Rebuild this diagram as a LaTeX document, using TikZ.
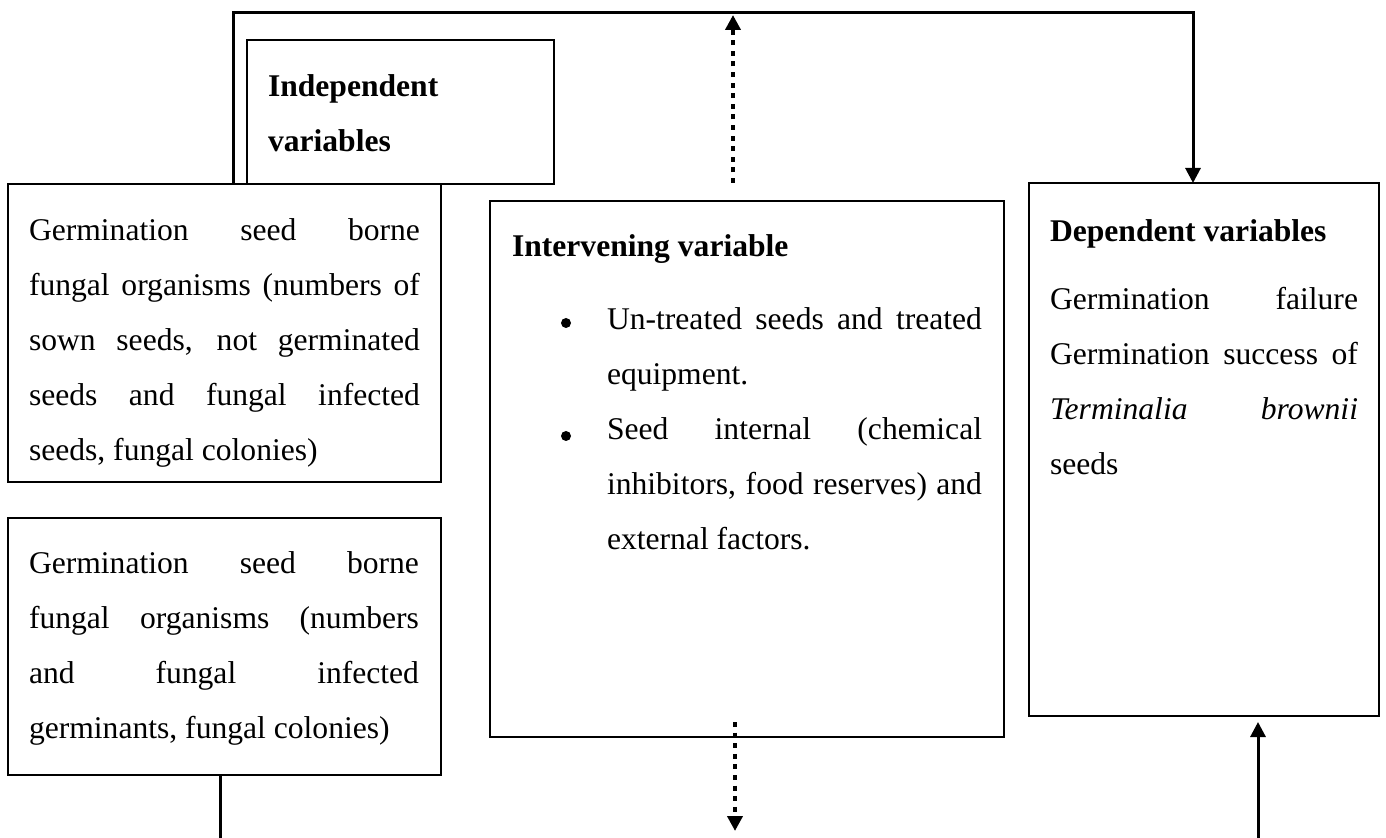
\documentclass[tikz,border=0pt]{standalone}
\usepackage{fontspec}
\setmainfont{Liberation Serif}
\usetikzlibrary{arrows.meta}
\newcommand\dgfont{\fontsize{15.8pt}{27.5pt}\selectfont}
\newcommand\jline[1]{\leavevmode{\spaceskip=0pt\xspaceskip=0pt\makebox[\hsize][s]{#1}}}
\begin{document}
\begin{tikzpicture}[x=0.5pt,y=-0.5pt,
  boxst/.style={draw, line width=1pt, inner sep=0pt, outer sep=0pt, anchor=north west},
  txt/.style={inner sep=0pt, outer sep=0pt, anchor=base west, font=\dgfont, align=justify},
  bulletst/.style={circle, fill=black, draw=none, inner sep=0pt, minimum size=5pt},
  conn/.style={line width=1.5pt},
  dotconn/.style={line width=2pt, dash pattern=on 2.5pt off 2.8pt},
  tipst/.style={-{Triangle[length=7.5pt,width=7.5pt]}}]
\useasboundingbox (0,0) rectangle (1386,838);

% boxes
\node[boxst, minimum width=216.5pt, minimum height=149pt] (iv1) at (8,184) {};
\node[boxst, minimum width=153.5pt, minimum height=72pt] (ind) at (247,40) {};
\node[boxst, minimum width=216.5pt, minimum height=128.5pt] (iv2) at (8,518) {};
\node[boxst, minimum width=257pt, minimum height=268pt] (inter) at (490,201) {};
\node[boxst, minimum width=175pt, minimum height=266.5pt] (dep) at (1029,183) {};

% texts
\node[txt, text width=130pt, font=\dgfont\bfseries] (indt) at (268,97) {Independent\\variables};

\node[txt, text width=195.5pt] (iv1t) at (29,241) {%
\jline{Germination seed borne}\\
\jline{fungal organisms (numbers of}\\
\jline{sown seeds, not germinated}\\
\jline{seeds and fungal infected}\\
seeds, fungal colonies)};

\node[txt, text width=195pt] (iv2t) at (29,574) {%
\jline{Germination seed borne}\\
\jline{fungal organisms (numbers}\\
\jline{and fungal infected}\\
germinants, fungal colonies)};

\node[txt, text width=200pt, font=\dgfont\bfseries] (intert) at (512,257) {Intervening variable};
\node[bulletst] (bul1) at (566,323) {};
\node[bulletst] (bul2) at (566,436) {};
\node[txt, text width=187.5pt] (interb) at (607,330) {%
\jline{Un-treated seeds and treated}\\
equipment.\\
\jline{Seed internal (chemical}\\
\jline{inhibitors, food reserves) and}\\
external factors.};

\node[txt, text width=160pt, font=\dgfont\bfseries] (dept) at (1050,242) {Dependent variables};
\node[txt, text width=154pt] (depb) at (1050,310) {%
\jline{Germination failure}\\
\jline{Germination success of}\\
\jline{\textit{Terminalia} \textit{brownii}}\\
seeds};

% connector anchors
\coordinate (tl) at (233,13);
\coordinate (tr) at (1193,13);
\coordinate (dtop) at (733,15);
\coordinate (dbot) at (735,831);
\coordinate (lbot) at (220,838);
\coordinate (rbot) at (1258,838);

% connectors
\draw[conn, tipst] (iv1.north west -| tl) -- (tl) -- (tr) -- (dep.north -| tr);
\draw[dotconn, tipst] ([yshift=9pt]inter.north -| dtop) -- (dtop);
\draw[dotconn, tipst] ([yshift=7.5pt]inter.south -| dbot) -- (dbot);
\draw[conn] (iv2.south -| lbot) -- (lbot);
\draw[conn, tipst] (rbot) -- ([yshift=-3pt]dep.south -| rbot);
\end{tikzpicture}
\end{document}
